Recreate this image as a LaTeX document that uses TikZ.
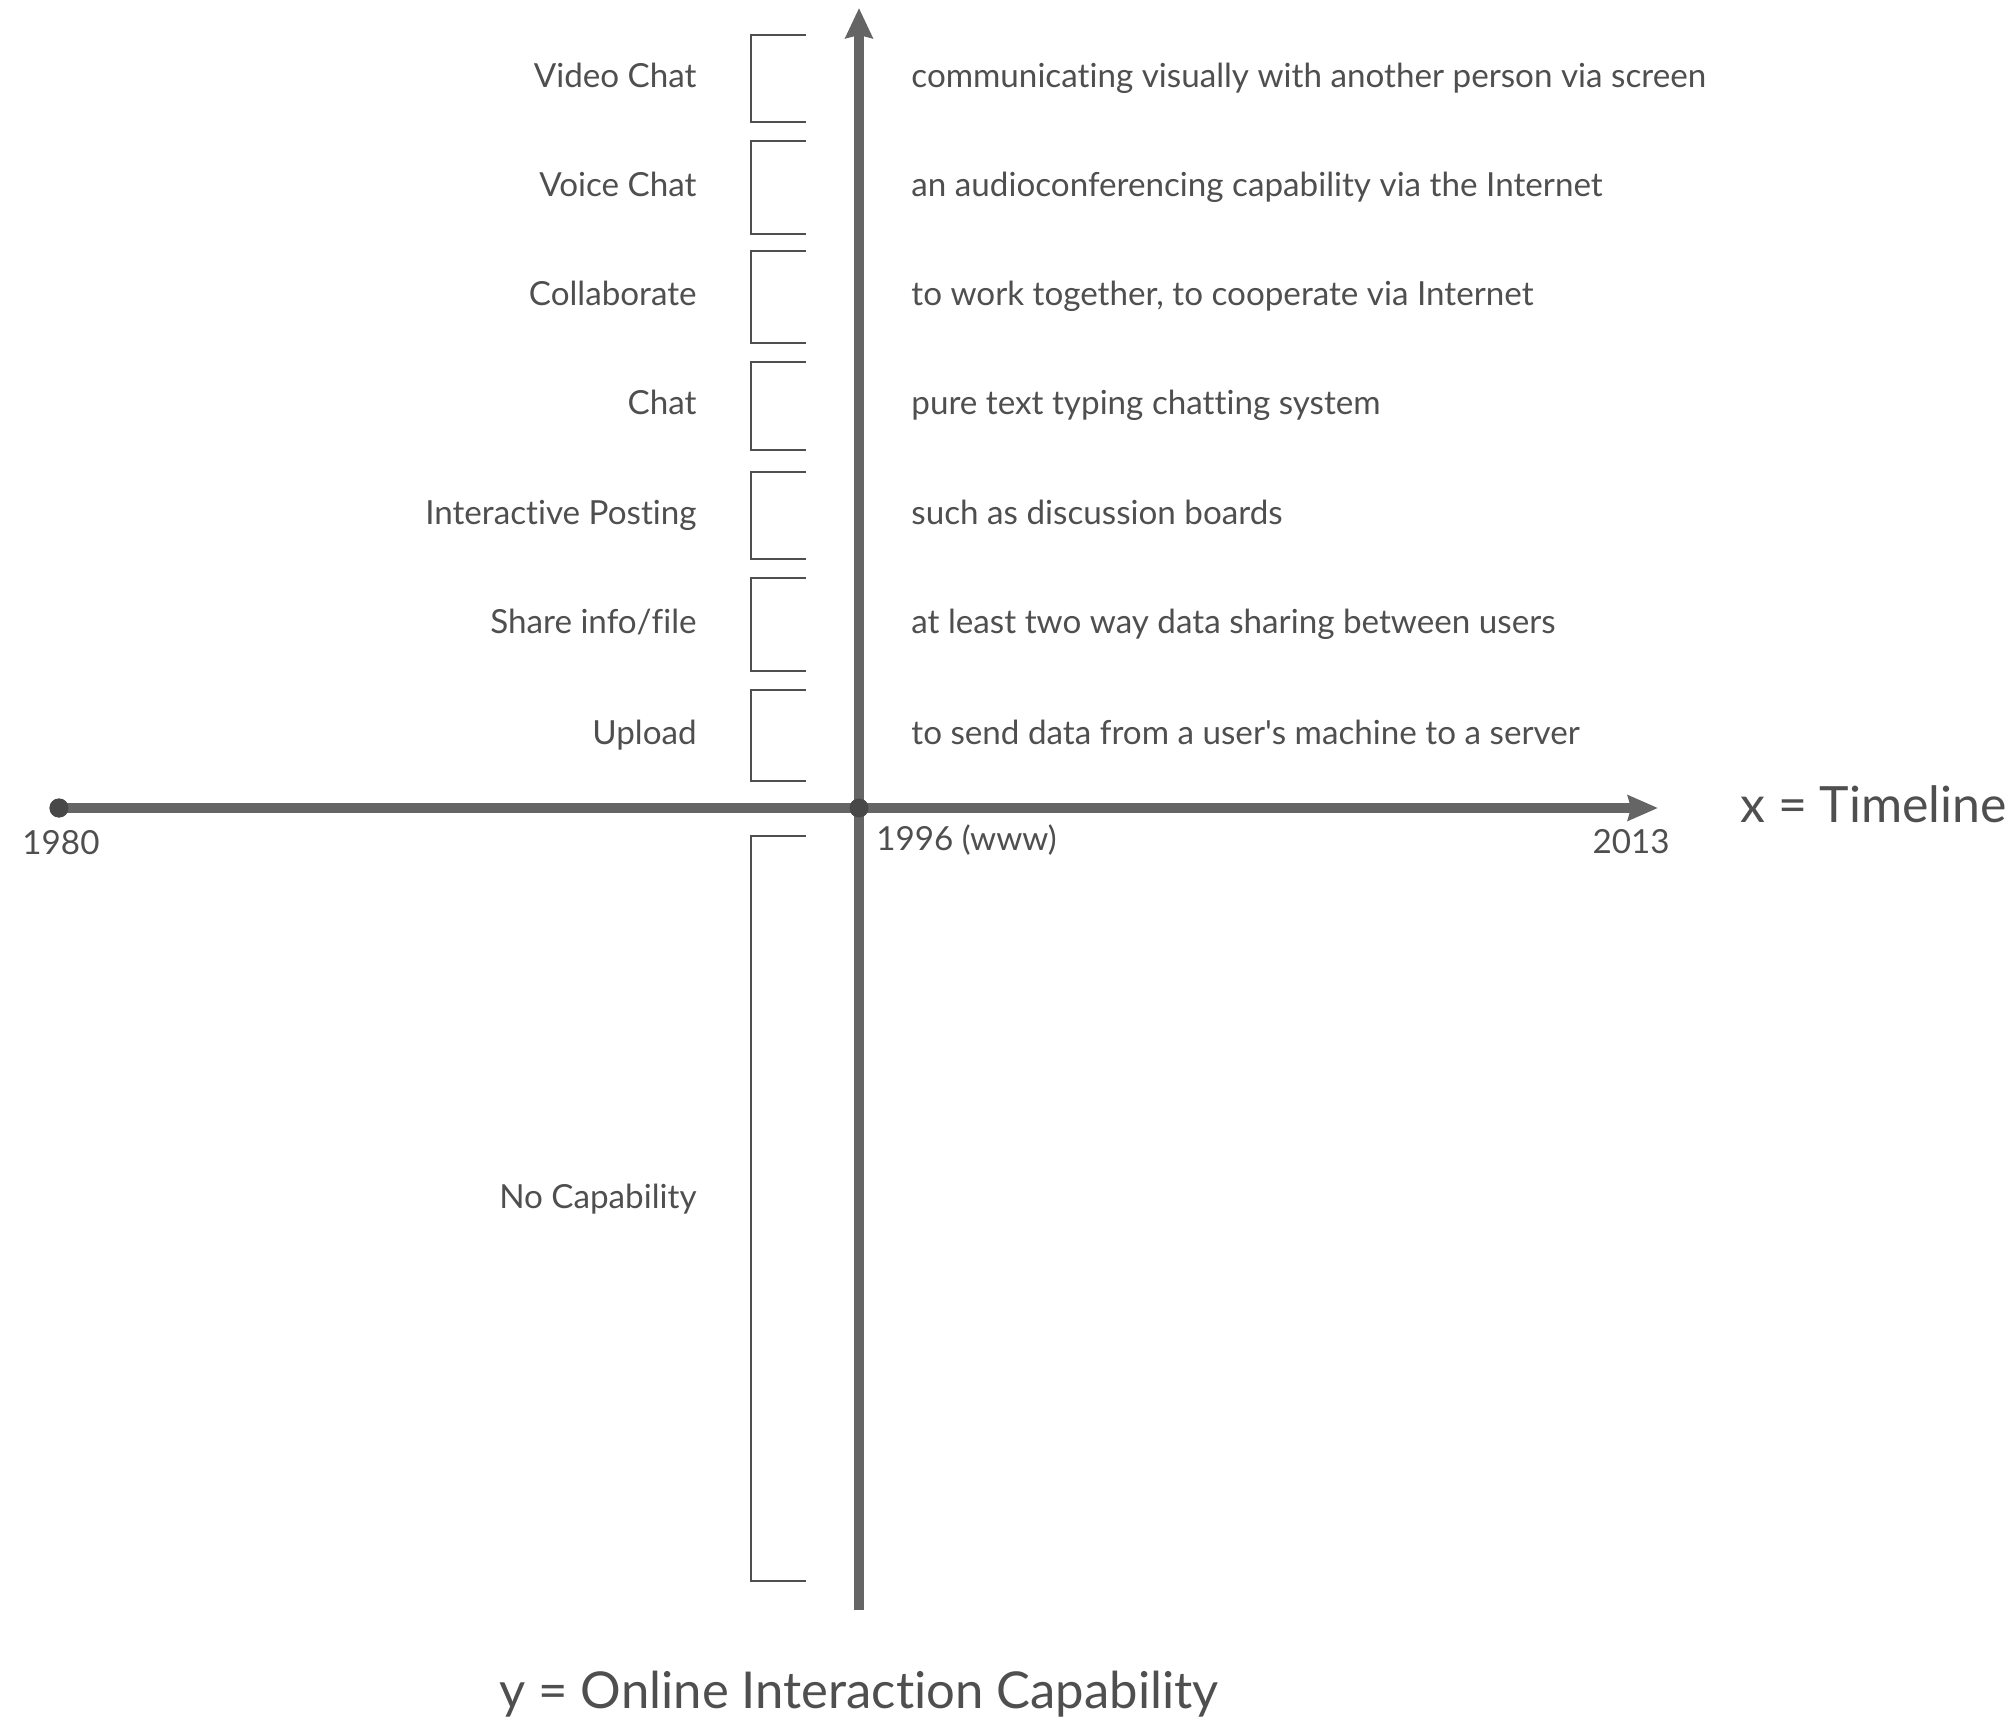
\documentclass[tikz,border=0pt]{standalone}
\usepackage{fontspec}
\setmainfont{Lato}[Ligatures={TeX,NoCommon}]
\usetikzlibrary{arrows.meta}
\definecolor{axisgray}{HTML}{656565}
\definecolor{inkgray}{HTML}{4f4f4f}
\definecolor{dotgray}{HTML}{484848}
\begin{document}
\begin{tikzpicture}[x=0.5pt,y=-0.5pt,
  axisline/.style={draw=axisgray,line width=5pt},
  bracketline/.style={draw=inkgray,line width=1.3pt},
  dotmark/.style={circle,fill=dotgray,inner sep=0pt,minimum size=9.5pt},
  lbl/.style={text=inkgray,font=\fontsize{16.6pt}{20pt}\selectfont,inner sep=0pt},
  title/.style={text=inkgray,inner sep=0pt}]
\useasboundingbox (0,0) rectangle (2015,1722);

% axes
\coordinate (xtip) at (1658,808);
\coordinate (ytip) at (859,8);
\coordinate (ybot) at (859,1610);
\node[dotmark] (start) at (59,808) {};
\node[dotmark] (origin) at (859,808) {};
\draw[axisline,-{Stealth[length=15pt,width=12.5pt,inset=1.5pt]}] (start.center) -- (xtip);
\draw[axisline,-{Stealth[length=15pt,width=13.5pt,inset=1.5pt]}] (ybot) -- (ytip);
\node[dotmark] at (start) {};
\node[dotmark] at (origin) {};

% year labels
\node[lbl,anchor=base] (y1980) at (61,854) {1980};
\node[lbl,anchor=base west] (y1996) at (876,850) {1996 (www)};
\node[lbl,anchor=base] (y2013) at (1631,853) {2013};

% axis titles
\node[title,anchor=base west,font=\fontsize{25pt}{30pt}\selectfont] (xtitle) at (1740,822) {x = Timeline};
\node[title,anchor=base,font=\fontsize{25.4pt}{30pt}\selectfont] (ytitle) at (859,1708) {y = Online Interaction Capability};

% capability levels: top, bottom, label, description
\foreach \t/\b/\name/\desc [count=\i] in {
  35/122/Video Chat/communicating visually with another person via screen,
  141/234/Voice Chat/an audioconferencing capability via the Internet,
  251/343/Collaborate/{to work together, to cooperate via Internet},
  362/450/Chat/pure text typing chatting system,
  472/559/Interactive Posting/such as discussion boards,
  578/671/Share info\slash file/at least two way data sharing between users,
  690/781/Upload/to send data from a user\textquotesingle s machine to a server}{
  \draw[bracketline] (806,\t) -- (751,\t) -- (751,\b) -- (806,\b);
  \node[lbl,anchor=base east] (cap\i) at (697,{(\t+\b)/2+9}) {\name};
  \node[lbl,anchor=base west] (desc\i) at (911,{(\t+\b)/2+9}) {\desc};
}

% no capability before the web
\draw[bracketline] (806,836) -- (751,836) -- (751,1581) -- (806,1581);
\node[lbl,anchor=base east] (cap0) at (697,1208) {No Capability};
\end{tikzpicture}
\end{document}
